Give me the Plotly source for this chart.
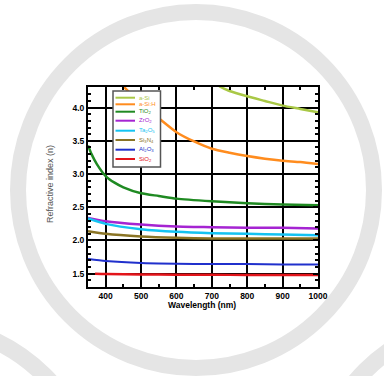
import plotly.graph_objects as go

# ---------------- data ----------------
series_names = ["a-Si", "a-Si:H", "TiO<sub>2</sub>", "ZrO<sub>2</sub>", "Ta<sub>2</sub>O<sub>5</sub>",
                "Si<sub>3</sub>N<sub>4</sub>", "Al<sub>2</sub>O<sub>3</sub>", "SiO<sub>2</sub>"]

asi_x = [650, 700, 725, 750, 800, 850, 900, 950, 1000]
asi_y = [4.58, 4.41, 4.31, 4.25, 4.17, 4.10, 4.03, 3.98, 3.93]

asih_x = [400, 450, 500, 550, 600, 650, 700, 750, 800, 850, 900, 950, 1000]
asih_y = [4.60, 4.32, 4.05, 3.84, 3.63, 3.49, 3.38, 3.32, 3.27, 3.23, 3.20, 3.18, 3.15]

tio2_x = [350, 360, 375, 400, 425, 450, 500, 550, 600, 700, 800, 900, 1000]
tio2_y = [3.43, 3.30, 3.15, 2.97, 2.87, 2.80, 2.71, 2.67, 2.63, 2.59, 2.56, 2.54, 2.53]

zro2_x = [350, 400, 500, 600, 700, 800, 900, 1000]
zro2_y = [2.34, 2.29, 2.24, 2.21, 2.20, 2.19, 2.19, 2.18]

ta2o5_x = [350, 400, 500, 600, 700, 800, 900, 1000]
ta2o5_y = [2.33, 2.25, 2.17, 2.13, 2.11, 2.10, 2.09, 2.08]

si3n4_x = [350, 400, 500, 600, 700, 800, 900, 1000]
si3n4_y = [2.14, 2.10, 2.06, 2.04, 2.03, 2.03, 2.03, 2.03]

al2o3_x = [350, 400, 500, 600, 700, 800, 900, 1000]
al2o3_y = [1.72, 1.69, 1.66, 1.65, 1.645, 1.645, 1.64, 1.64]

sio2_x = [370, 400, 500, 600, 700, 800, 900, 1000]
sio2_y = [1.50, 1.495, 1.49, 1.485, 1.485, 1.48, 1.48, 1.48]

x_ticks = [400, 500, 600, 700, 800, 900, 1000]
y_ticks = [1.5, 2.0, 2.5, 3.0, 3.5, 4.0]

# ---------------- style ----------------
colors = ["#a9c846", "#ff8c1e", "#1f8a22", "#a524d2", "#14c3f2", "#8a7425", "#2030cc", "#e3141a"]
widths = [2.5, 2.5, 2.5, 2.5, 2.5, 2.5, 2.0, 2.5]

xs = [asi_x, asih_x, tio2_x, zro2_x, ta2o5_x, si3n4_x, al2o3_x, sio2_x]
ys = [asi_y, asih_y, tio2_y, zro2_y, ta2o5_y, si3n4_y, al2o3_y, sio2_y]

FW, FH = 384, 376
ML, MR, MT, MB = 88, 66, 87, 89
PW, PH = FW - ML - MR, FH - MT - MB


def px(xp):
    return (xp - ML) / PW


def py(yp):
    return (FH - MB - yp) / PH


fig = go.Figure()
for name, x, y, c, w in zip(series_names, xs, ys, colors, widths):
    fig.add_trace(go.Scatter(x=x, y=y, mode="lines", name=name,
                             line=dict(color=c, width=w, shape="spline", smoothing=0.6),
                             showlegend=False))

shapes = []
# decorative background rings
ring_col = "#e5e5e5"
for cx, cy, r, lw in [(196, 190, 178, 16), (-80, 500, 176, 17), (490, 495, 176, 17)]:
    shapes.append(dict(type="circle", xref="paper", yref="paper",
                       x0=px(cx - r), x1=px(cx + r), y0=py(cy + r), y1=py(cy - r),
                       line=dict(color=ring_col, width=lw), layer="below"))

# custom legend
shapes.append(dict(type="rect", xref="paper", yref="paper",
                   x0=px(113), x1=px(160.5), y0=py(167), y1=py(91),
                   line=dict(color="#555555", width=1.5), fillcolor="white"))
legend_y = [97.7, 104.3, 111.7, 120.7, 130.7, 140.0, 149.7, 159.0]
annotations = []
for name, c, ly in zip(series_names, colors, legend_y):
    shapes.append(dict(type="line", xref="paper", yref="paper",
                       x0=px(115.5), x1=px(135), y0=py(ly), y1=py(ly),
                       line=dict(color=c, width=2)))
    annotations.append(dict(xref="paper", yref="paper", x=px(137), y=py(ly),
                            xanchor="left", yanchor="middle", showarrow=False,
                            text=name, font=dict(size=6, color=c, family="Liberation Sans")))

annotations.append(dict(xref="paper", yref="paper", x=px(202), y=py(305),
                        xanchor="center", yanchor="middle", showarrow=False,
                        text="<b>Wavelength (nm)</b>",
                        font=dict(size=8.5, color="black", family="Liberation Sans Narrow, Liberation Sans")))
annotations.append(dict(xref="paper", yref="paper", x=px(50), y=py(184),
                        xanchor="center", yanchor="middle", showarrow=False, textangle=-90,
                        text="Refractive index (n)",
                        font=dict(size=9, color="#555555", family="Liberation Sans")))

axis_common = dict(showline=True, linecolor="black", linewidth=2, mirror="allticks",
                   ticks="inside", ticklen=5, tickwidth=1.5, tickcolor="black",
                   showgrid=True, gridcolor="black", gridwidth=1.6, zeroline=False,
                   tickfont=dict(size=8.5, color="black", family="Liberation Sans"))

fig.update_xaxes(range=[350, 1000], tickvals=x_ticks, ticktext=[f"<b>{v}</b>" for v in x_ticks],
                 minor=dict(ticks="inside", ticklen=3, dtick=50, tick0=350, tickwidth=1.5,
                            tickcolor="black", showgrid=False),
                 **axis_common)
fig.update_yaxes(range=[1.3, 4.31], tickvals=y_ticks, ticktext=[f"<b>{v:.1f}</b>" for v in y_ticks],
                 minor=dict(ticks="inside", ticklen=3, dtick=0.1, tick0=1.3, tickwidth=1.5,
                            tickcolor="black", showgrid=False),
                 **axis_common)

fig.update_layout(width=FW, height=FH, margin=dict(l=ML, r=MR, t=MT, b=MB, pad=0),
                  paper_bgcolor="white", plot_bgcolor="white",
                  shapes=shapes, annotations=annotations, showlegend=False)

fig.write_html("out.html", config={"displayModeBar": False},
               post_script="document.body.style.margin='0px';document.body.style.overflow='hidden';")
